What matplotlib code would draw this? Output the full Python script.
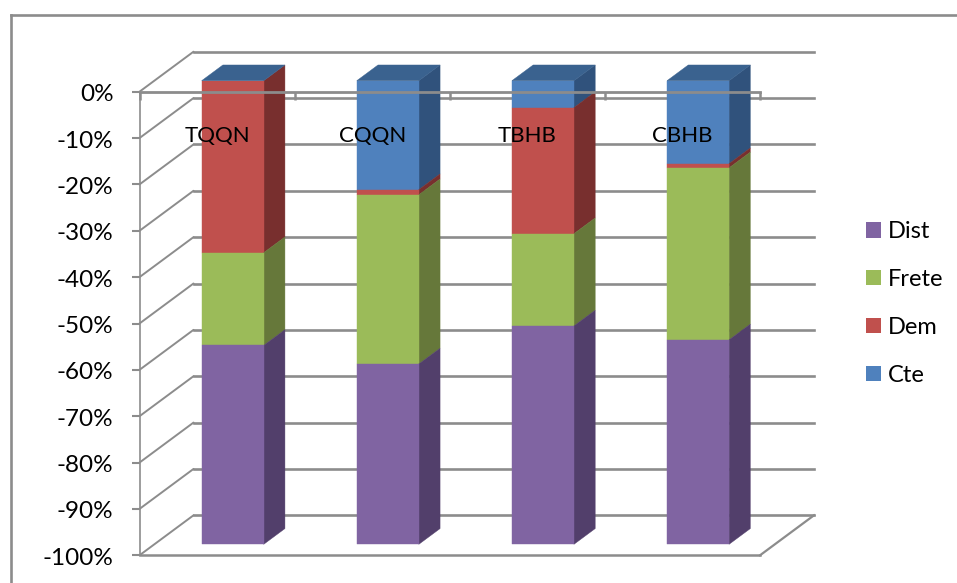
import matplotlib
matplotlib.use("Agg")
import matplotlib.pyplot as plt
from matplotlib.lines import Line2D
from matplotlib.patches import Patch, Polygon
from matplotlib.transforms import Affine2D

plt.rcParams["font.family"] = ["Lato", "DejaVu Sans"]

# Stacked shares per category, in percent, running downward from 0%
categories = ["TQQN", "CQQN", "TBHB", "CBHB"]
cte = [0.0, 23.5, 5.8, 17.9]
dem = [37.1, 1.1, 27.2, 0.9]
frete = [20.0, 36.5, 19.9, 37.1]
dist = [42.9, 38.9, 47.1, 44.1]

series_names = ["Cte", "Dem", "Frete", "Dist"]
series_values = [cte, dem, frete, dist]
face_colors = ["#4F81BD", "#C0504D", "#9BBB59", "#8064A2"]
side_colors = ["#30527C", "#782F2E", "#66783A", "#523F6B"]
top_color = "#3A628F"

y_ticks = [0, -10, -20, -30, -40, -50, -60, -70, -80, -90, -100]
y_labels = ["0%", "-10%", "-20%", "-30%", "-40%", "-50%", "-60%",
            "-70%", "-80%", "-90%", "-100%"]

W, H = 957, 583
GRID = "#8C8C8C"

fig = plt.figure(figsize=(W / 100, H / 100), dpi=100)
left, right, top, bottom = 139.5, 760.0, 91.7, 555.3
ax = fig.add_axes([left / W, 1 - bottom / H, (right - left) / W, (bottom - top) / H])
ax.set_xlim(-0.5, 3.5)
ax.set_ylim(-100, 0)
ax.patch.set_alpha(0)
ax.set_axisbelow(False)

# Oblique depth of the chart box, converted from pixels to data units
DX = 54 / ((right - left) / 4)
DY = 40 / ((bottom - top) / 100)


def project(x, y, d):
    return x + d * DX, y + d * DY


# Back wall and left wall grid lines, plus the floor edge at the right
for v in y_ticks:
    p0 = project(-0.5, v, 0)
    p1 = project(-0.5, v, 1)
    p2 = project(3.5, v, 1)
    ax.plot([p0[0], p1[0]], [p0[1], p1[1]], color=GRID, lw=1.4,
            clip_on=False, zorder=1, solid_capstyle="round")
    ax.plot([p1[0], p2[0]], [p1[1], p2[1]], color=GRID, lw=1.9,
            clip_on=False, zorder=1)
p0 = project(3.5, -100, 0)
p1 = project(3.5, -100, 1)
ax.plot([p0[0], p1[0]], [p0[1], p1[1]], color=GRID, lw=1.6, clip_on=False, zorder=1)

# Stacked columns: front face, side face and cap
BAR_WIDTH = 0.4
D_FRONT, D_BACK = 0.275, 0.668
for i in range(len(categories)):
    x0, x1 = i - BAR_WIDTH / 2 + 0.005, i + BAR_WIDTH / 2 + 0.005
    upper = 0.0
    for values, face, side in zip(series_values, face_colors, side_colors):
        lower = upper - values[i]
        if values[i] > 0:
            front = [project(x0, upper, D_FRONT), project(x1, upper, D_FRONT),
                     project(x1, lower, D_FRONT), project(x0, lower, D_FRONT)]
            flank = [project(x1, upper, D_FRONT), project(x1, upper, D_BACK),
                     project(x1, lower, D_BACK), project(x1, lower, D_FRONT)]
            ax.add_patch(Polygon(flank, closed=True, fc=side, ec=side, lw=0.3,
                                 clip_on=False, zorder=2))
            ax.add_patch(Polygon(front, closed=True, fc=face, ec=face, lw=0.3,
                                 clip_on=False, zorder=2))
        upper = lower
    cap = [project(x0, 0, D_FRONT), project(x1, 0, D_FRONT),
           project(x1, 0, D_BACK), project(x0, 0, D_BACK)]
    ax.add_patch(Polygon(cap, closed=True, fc=top_color, ec=top_color, lw=0.3,
                         clip_on=False, zorder=2))

# Axis lines: the category axis sits along 0% at the top of the plot
for name, spine in ax.spines.items():
    spine.set_color(GRID)
ax.spines["right"].set_visible(False)
ax.spines["top"].set_linewidth(2.0)
ax.spines["top"].set_zorder(3)
ax.spines["bottom"].set_linewidth(1.8)
ax.spines["left"].set_linewidth(1.2)

ax.set_yticks(y_ticks)
ax.set_yticklabels(y_labels, fontsize=17.5, color="black")
ax.tick_params(axis="y", length=5.8, width=1.5, color=GRID, pad=13, direction="out")
for label in ax.get_yticklabels():
    label.set_transform(label.get_transform() + Affine2D().translate(0, -1))

ax.xaxis.tick_top()
ax.set_xticks(range(len(categories)))
ax.set_xticklabels(categories, fontsize=16, color="black", va="bottom")
ax.set_xticks([-0.5, 0.5, 1.5, 2.5, 3.5], minor=True)
ax.tick_params(axis="x", which="major", length=0, pad=-39)
ax.tick_params(axis="x", which="minor", length=6, width=1.8, color=GRID,
               direction="in", top=True, bottom=False)

# Legend reads from the bottom of the stack upward
handles = [Patch(fc=c, ec="none", label=n)
           for n, c in zip(series_names[::-1], face_colors[::-1])]
fig.legend(handles=handles, loc="center left",
           bbox_to_anchor=(866 / W, 1 - 303.5 / H), frameon=False, fontsize=17,
           handlelength=0.63, handleheight=0.63, handletextpad=0.3,
           labelspacing=1.14, borderpad=0, borderaxespad=0)

# Outer chart border, open past the right and bottom edges of the image
bx, by = 11.0, 15.0
fig.add_artist(Line2D([bx / W, bx / W], [0, 1 - by / H], color=GRID, lw=1.9))
fig.add_artist(Line2D([bx / W, 1], [1 - by / H, 1 - by / H], color=GRID, lw=1.9))

fig.savefig("out.png", dpi=100)
